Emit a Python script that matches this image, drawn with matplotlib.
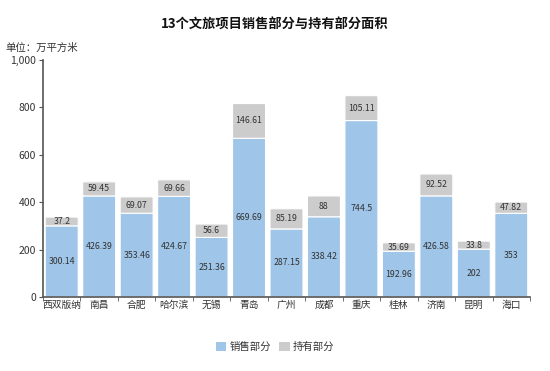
import matplotlib.pyplot as plt
import numpy as np
from matplotlib.patches import FancyBboxPatch
from matplotlib.ticker import FuncFormatter

plt.rcParams['font.family'] = ['Noto Sans CJK SC', 'DejaVu Sans']

cities = ["西双版纳", "南昌", "合肥", "哈尔滨", "无锡", "青岛", "广州",
          "成都", "重庆", "桂林", "济南", "昆明", "海口"]
sold = [300.14, 426.39, 353.46, 424.67, 251.36, 669.69, 287.15,
        338.42, 744.5, 192.96, 426.58, 202, 353]
held = [37.2, 59.45, 69.07, 69.66, 56.6, 146.61, 85.19,
        88, 105.11, 35.69, 92.52, 33.8, 47.82]

BLUE = "#9fc5e8"
GREY = "#cccccc"
TEXT = "#333333"

fig = plt.figure(figsize=(5.5, 3.71), dpi=100)
ax = fig.add_axes([43 / 550, 1 - 297 / 371, 487 / 550, 237 / 371])

x = np.arange(len(cities))
w = 0.88


def rbar(xc, bottom, height, color):
    # bar with slightly rounded corners
    p = FancyBboxPatch((xc - w / 2, bottom), w, height,
                       boxstyle="round,pad=0,rounding_size=0.06",
                       mutation_aspect=40, fc=color, ec="white", lw=0.8)
    ax.add_patch(p)


for i in x:
    rbar(i, 0, sold[i], BLUE)
    rbar(i, sold[i], held[i], GREY)
    ax.text(i, sold[i] / 2, f"{sold[i]:g}", ha="center", va="center",
            fontsize=6.3, color=TEXT)
    ax.text(i, sold[i] + held[i] / 2, f"{held[i]:g}", ha="center",
            va="center", fontsize=6.3, color=TEXT)

ax.set_xlim(-0.5, len(cities) - 0.5)
ax.set_ylim(0, 1000)
ax.set_yticks(range(0, 1001, 200))
ax.yaxis.set_major_formatter(FuncFormatter(lambda v, _: f"{v:,.0f}"))
ax.set_xticks(x)
ax.set_xticklabels(cities)
ax.set_xticks(np.arange(-0.5, len(cities), 1), minor=True)
ax.tick_params(axis="x", which="major", length=0, labelsize=7,
               colors=TEXT, pad=2)
ax.tick_params(axis="x", which="minor", length=3, color="#555555")
ax.tick_params(axis="y", labelsize=7.5, colors=TEXT, length=3,
               color="#555555", pad=2)
for s in ["top", "right"]:
    ax.spines[s].set_visible(False)
for s in ["left", "bottom"]:
    ax.spines[s].set_color("#555555")
    ax.spines[s].set_linewidth(1.2)

fig.text(0.5, 1 - 24 / 371, "13个文旅项目销售部分与持有部分面积",
         ha="center", va="center", fontsize=9.5, fontweight="bold",
         color="#111111")
fig.text(5 / 550, 1 - 48 / 371, "单位：万平方米", ha="left", va="center",
         fontsize=7.5, color=TEXT)

handles = [FancyBboxPatch((0, 0), 1, 1, boxstyle="round,pad=0,rounding_size=0.2",
                          fc=c, ec="none") for c in (BLUE, GREY)]
fig.legend(handles, ["销售部分", "持有部分"], loc="center",
           bbox_to_anchor=(0.5, 1 - 347 / 371), ncol=2, frameon=False,
           fontsize=7.5, handlelength=1.0, handleheight=1.0,
           handletextpad=0.3, columnspacing=0.8, labelcolor=TEXT)

fig.savefig("out.png", dpi=100, facecolor="white")
